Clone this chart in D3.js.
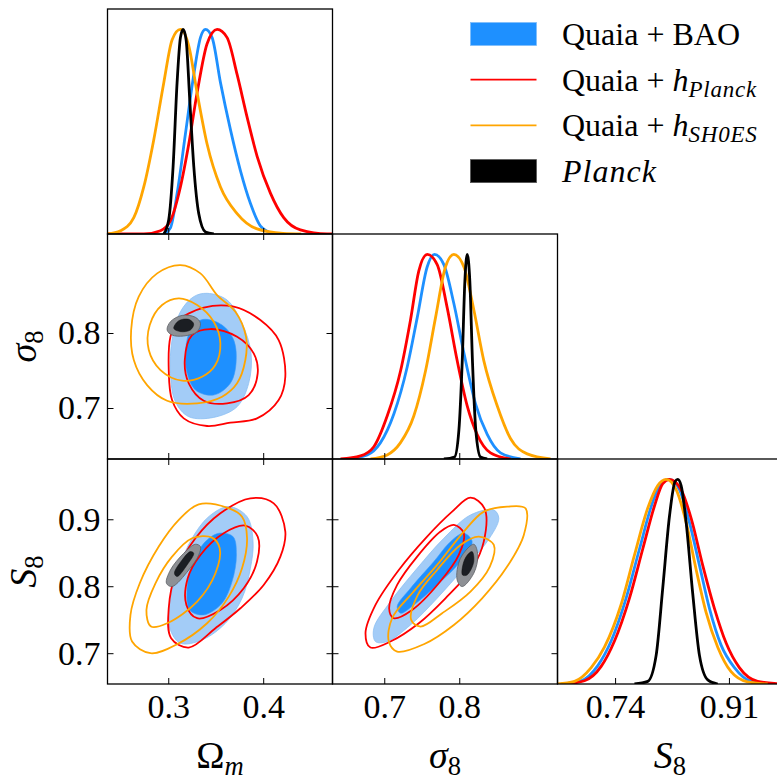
<!DOCTYPE html>
<html>
<head>
<meta charset="utf-8">
<script src="https://cdn.jsdelivr.net/npm/d3@7"></script>
<style>
body { margin: 0; background: #fff; }
svg { display: block; font-family: "Liberation Serif", "DejaVu Serif", serif; }
</style>
</head>
<body>
<script>
// tick values
var omTicks = [0.3, 0.4];
var sigTicks = [0.7, 0.8];
var s8yTicks = [0.7, 0.8, 0.9];
var s8xTicks = [0.74, 0.91];

// 1D marginals, [value, normalised density]
var om_bao = [[0.2953,0],[0.3023,0.03],[0.3094,0.2],[0.3181,0.49],[0.3269,0.78],[0.3339,0.96],[0.3392,1.0],[0.3462,0.96],[0.355,0.74],[0.3655,0.51],[0.376,0.31],[0.3865,0.15],[0.397,0.04],[0.411,0]];
var om_hpl = [[0.236,0],[0.2742,0],[0.2918,0.016],[0.3023,0.065],[0.3128,0.23],[0.3216,0.44],[0.3304,0.69],[0.3409,0.93],[0.3515,1.0],[0.362,0.96],[0.3725,0.78],[0.3831,0.57],[0.3936,0.38],[0.4076,0.2],[0.4216,0.08],[0.4392,0.02],[0.4673,0],[0.473,0]];
var om_hsh = [[0.236,0],[0.2497,0.016],[0.2637,0.08],[0.2742,0.23],[0.2847,0.46],[0.2953,0.74],[0.3041,0.95],[0.3128,1.0],[0.3216,0.92],[0.3304,0.69],[0.3409,0.44],[0.355,0.23],[0.3725,0.1],[0.3936,0.025],[0.421,0.003],[0.44,0]];
var om_planck = [[0.2953,0],[0.3005,0.07],[0.3051,0.33],[0.3093,0.74],[0.3128,0.96],[0.3157,1.0],[0.3188,0.95],[0.3227,0.65],[0.3269,0.33],[0.3321,0.1],[0.3392,0.01],[0.348,0]];

var sig_bao = [[0.6506,0],[0.6772,0.02],[0.695,0.08],[0.7128,0.22],[0.7306,0.45],[0.7439,0.69],[0.7573,0.94],[0.767,1.0],[0.7795,0.95],[0.7928,0.76],[0.8061,0.52],[0.8217,0.27],[0.8373,0.12],[0.855,0.03],[0.8817,0]];
var sig_hpl = [[0.6417,0],[0.6683,0.015],[0.6861,0.06],[0.7039,0.21],[0.7217,0.43],[0.735,0.68],[0.7461,0.92],[0.7573,1.0],[0.7706,0.95],[0.7839,0.74],[0.7973,0.48],[0.8106,0.26],[0.8239,0.12],[0.8417,0.03],[0.8683,0]];
var sig_hsh = [[0.6817,0],[0.7039,0.02],[0.7217,0.08],[0.7394,0.21],[0.755,0.43],[0.7683,0.69],[0.7817,0.94],[0.7928,1.0],[0.8061,0.94],[0.8194,0.73],[0.8328,0.48],[0.8506,0.26],[0.8683,0.1],[0.8906,0.025],[0.9217,0]];
var sig_planck = [[0.7795,0],[0.7937,0.01],[0.7995,0.14],[0.8039,0.47],[0.8075,0.87],[0.8106,1.0],[0.8141,0.87],[0.8177,0.47],[0.8221,0.14],[0.8283,0.01],[0.8373,0]];

var s8_bao = [[0.6595,0],[0.6894,0.016],[0.7142,0.09],[0.7341,0.21],[0.7565,0.42],[0.7764,0.66],[0.7962,0.89],[0.8112,0.99],[0.8212,1.0],[0.8361,0.95],[0.851,0.79],[0.866,0.58],[0.8809,0.37],[0.8983,0.19],[0.9182,0.08],[0.943,0.013],[0.973,0]];
var s8_hpl = [[0.6645,0],[0.6943,0.016],[0.7192,0.086],[0.7391,0.21],[0.7615,0.42],[0.7813,0.66],[0.7988,0.87],[0.8112,0.98],[0.8212,1.0],[0.8386,0.95],[0.8536,0.81],[0.8709,0.58],[0.8883,0.37],[0.9058,0.2],[0.9256,0.08],[0.9529,0.013],[0.99,0]];
var s8_hsh = [[0.654,0],[0.6794,0.013],[0.7043,0.08],[0.7241,0.18],[0.7491,0.39],[0.7689,0.63],[0.7888,0.86],[0.8037,0.97],[0.8162,1.0],[0.8312,0.95],[0.8461,0.79],[0.861,0.56],[0.8759,0.35],[0.8933,0.18],[0.9132,0.06],[0.938,0.01],[0.9679,0]];
var s8_planck = [[0.7689,0],[0.7888,0.013],[0.8013,0.14],[0.8112,0.47],[0.8212,0.82],[0.8296,0.99],[0.8336,1.0],[0.8386,0.97],[0.8461,0.79],[0.856,0.44],[0.866,0.14],[0.8784,0.02],[0.8933,0]];

// 2D contours (outer = 95%, inner = 68%), [x value, y value]
// Omega_m vs sigma_8
var omsig_bao95 = [[0.3409,0.8529],[0.3619,0.844],[0.3777,0.8129],[0.3872,0.7729],[0.3847,0.7329],[0.3725,0.7017],[0.3479,0.6875],[0.3216,0.6884],[0.3075,0.7084],[0.3023,0.7462],[0.304,0.7906],[0.3128,0.8284],[0.3268,0.8484]];
var omsig_bao68 = [[0.3374,0.8182],[0.3567,0.8106],[0.369,0.7906],[0.3714,0.7595],[0.3654,0.7329],[0.3479,0.7173],[0.3286,0.724],[0.3191,0.7506],[0.3191,0.7862],[0.3251,0.8084]];
var omsig_hpl95 = [[0.3093,0.8151],[0.3374,0.8338],[0.369,0.8351],[0.397,0.8173],[0.4163,0.7906],[0.4233,0.7417],[0.4163,0.7106],[0.3935,0.6862],[0.3654,0.6804],[0.3409,0.676],[0.3163,0.6862],[0.304,0.7106],[0.3005,0.7506],[0.3023,0.7951]];
var omsig_hpl68 = [[0.3251,0.7973],[0.3444,0.8053],[0.3725,0.7951],[0.39,0.7729],[0.3942,0.7462],[0.3847,0.7173],[0.3619,0.7062],[0.3374,0.7097],[0.3216,0.7329],[0.3174,0.764]];
var omsig_hsh95 = [[0.3128,0.8906],[0.3339,0.8795],[0.3514,0.8506],[0.3707,0.8284],[0.3819,0.7951],[0.3812,0.764],[0.3725,0.7329],[0.3567,0.7151],[0.3304,0.7062],[0.2988,0.7097],[0.2777,0.7306],[0.2637,0.764],[0.2609,0.804],[0.2689,0.8484],[0.2883,0.8795]];
var omsig_hsh68 = [[0.3111,0.8462],[0.3304,0.8373],[0.3479,0.8151],[0.3549,0.7862],[0.3496,0.7573],[0.3356,0.7417],[0.3146,0.7364],[0.2918,0.7506],[0.2795,0.7773],[0.2805,0.8106],[0.2935,0.8373]];
var omsig_planck95 = [[0.2988,0.804],[0.3023,0.8151],[0.3146,0.8235],[0.3286,0.8209],[0.3339,0.8129],[0.3304,0.8018],[0.3163,0.796],[0.304,0.7973]];
var omsig_planck68 = [[0.3058,0.8062],[0.3111,0.8164],[0.3216,0.8182],[0.3268,0.812],[0.3233,0.804],[0.3128,0.8018]];

// Omega_m vs S_8
var oms8_bao95 = [[0.3637,0.9189],[0.383,0.9039],[0.3893,0.8666],[0.3865,0.8268],[0.3777,0.782],[0.3602,0.7447],[0.3356,0.7198],[0.3128,0.7149],[0.3016,0.7373],[0.3016,0.7771],[0.3111,0.8268],[0.3251,0.8716],[0.3426,0.9039]];
var oms8_bao68 = [[0.3532,0.8791],[0.3682,0.8741],[0.3718,0.8467],[0.3672,0.8069],[0.3567,0.7746],[0.3374,0.7572],[0.3226,0.7646],[0.3198,0.797],[0.3251,0.8318],[0.3374,0.8641]];
var oms8_hpl95 = [[0.3865,0.9313],[0.4111,0.9238],[0.4233,0.8815],[0.4181,0.8442],[0.4005,0.8019],[0.376,0.7671],[0.3497,0.7373],[0.3216,0.7084],[0.303,0.7224],[0.3005,0.7671],[0.3086,0.8219],[0.3286,0.8716],[0.3549,0.9089]];
var oms8_hpl68 = [[0.3812,0.8905],[0.3942,0.8741],[0.3935,0.8368],[0.3795,0.797],[0.3549,0.7646],[0.3304,0.7522],[0.3191,0.7721],[0.3205,0.8119],[0.3339,0.8467],[0.3584,0.8791]];
var oms8_hsh95 = [[0.3321,0.9223],[0.3619,0.9174],[0.3777,0.9039],[0.383,0.8716],[0.3777,0.8268],[0.3637,0.7845],[0.3409,0.7447],[0.3093,0.7134],[0.2812,0.7],[0.2619,0.7174],[0.2602,0.7572],[0.27,0.8044],[0.29,0.8592],[0.3111,0.899]];
var oms8_hsh68 = [[0.3251,0.8716],[0.3461,0.8726],[0.3542,0.8567],[0.3497,0.8194],[0.3304,0.7771],[0.2988,0.7447],[0.2819,0.7398],[0.277,0.7646],[0.2865,0.8044],[0.304,0.8442]];
var oms8_planck95 = [[0.3339,0.8592],[0.3321,0.8467],[0.3216,0.8243],[0.304,0.7995],[0.2981,0.8044],[0.3023,0.8243],[0.3163,0.8492],[0.3286,0.8627]];
var oms8_planck68 = [[0.3268,0.8492],[0.3198,0.8318],[0.3093,0.8144],[0.3065,0.8194],[0.3146,0.8392],[0.3233,0.8517]];

// sigma_8 vs S_8
var sigs8_bao95 = [[0.8461,0.9139],[0.8527,0.9014],[0.8372,0.8666],[0.8061,0.8268],[0.7705,0.782],[0.735,0.7422],[0.7039,0.7174],[0.6883,0.7174],[0.6861,0.7373],[0.7083,0.7771],[0.7439,0.8268],[0.7794,0.8716],[0.815,0.9064]];
var sigs8_bao68 = [[0.8061,0.8791],[0.8172,0.8666],[0.8016,0.8368],[0.7705,0.8019],[0.7394,0.7721],[0.7217,0.7597],[0.7172,0.7696],[0.735,0.797],[0.7661,0.8368],[0.7883,0.8666]];
var sigs8_hpl95 = [[0.815,0.9323],[0.8336,0.9164],[0.8327,0.8666],[0.8172,0.8268],[0.7816,0.782],[0.7461,0.7447],[0.7083,0.7174],[0.6816,0.7084],[0.675,0.7298],[0.6883,0.7721],[0.7194,0.8243],[0.755,0.8716],[0.7905,0.9114]];
var sigs8_hpl68 = [[0.7928,0.8915],[0.8061,0.8791],[0.7994,0.8467],[0.7727,0.8044],[0.7372,0.7646],[0.7127,0.7522],[0.7065,0.7671],[0.7172,0.8019],[0.7439,0.8442],[0.775,0.8816]];
var sigs8_hsh95 = [[0.8639,0.9189],[0.8883,0.9164],[0.8861,0.8766],[0.8639,0.8293],[0.8305,0.782],[0.7928,0.7422],[0.7528,0.7134],[0.7172,0.7024],[0.7061,0.7174],[0.7105,0.7522],[0.7372,0.7895],[0.7705,0.8318],[0.8061,0.8816],[0.8328,0.9114]];
var sigs8_hsh68 = [[0.8261,0.8741],[0.8461,0.8616],[0.8408,0.8293],[0.815,0.792],[0.7772,0.7597],[0.7483,0.7398],[0.7359,0.7497],[0.7448,0.787],[0.7705,0.8243],[0.8016,0.8616]];
var sigs8_planck95 = [[0.8194,0.8627],[0.8247,0.8467],[0.8194,0.8194],[0.8039,0.7995],[0.7972,0.8094],[0.8016,0.8417]];
var sigs8_planck68 = [[0.8172,0.8517],[0.8194,0.8368],[0.8105,0.8169],[0.8043,0.8169],[0.8061,0.8368],[0.8128,0.8492]];

// styles
var cBlue = "#1e90ff", cBlueLight = "#a3ccf7", cRed = "#ff0000", cOrange = "#ffa500";
var cBlack = "#1b1e23", cGrey = "#8d9095";

var W = 777, H = 781;
var sz = 225, left = 107.5, top0 = 9;

var svg = d3.select("body").append("svg")
    .attr("width", W).attr("height", H);

svg.append("defs").append("clipPath").attr("id", "pc")
    .append("rect").attr("width", sz).attr("height", sz);

var xOm = d3.scaleLinear().domain([0.236, 0.473]).range([0, sz]);
var xSig = d3.scaleLinear().domain([0.631, 0.931]).range([0, sz]);
var ySig = d3.scaleLinear().domain([0.632, 0.932]).range([sz, 0]);
var xS8 = d3.scaleLinear().domain([0.654, 0.990]).range([0, sz]);
var yS8 = d3.scaleLinear().domain([0.654, 0.990]).range([sz, 0]);
var yDen = d3.scaleLinear().domain([0, 1.1]).range([sz, 0]);

function panel(col, row) {
    var g = svg.append("g").attr("transform", "translate(" + (left + col * sz) + "," + (top0 + row * sz) + ")");
    var inner = g.append("g").attr("clip-path", "url(#pc)");
    return { g: g, inner: inner };
}

function draw1D(p, xs, list) {
    var line = d3.line().x(function (d) { return xs(d[0]); }).y(function (d) { return yDen(d[1]); })
        .curve(d3.curveMonotoneX);
    list.forEach(function (c) {
        p.inner.append("path").datum(c[0]).attr("d", line)
            .attr("fill", "none").attr("stroke", c[1]).attr("stroke-width", 2.8)
            .attr("stroke-linejoin", "round");
    });
}

function draw2D(p, xs, ys, sets) {
    var line = d3.line().x(function (d) { return xs(d[0]); }).y(function (d) { return ys(d[1]); })
        .curve(d3.curveCatmullRomClosed.alpha(0.5));
    // blue filled
    p.inner.append("path").datum(sets.bao[0]).attr("d", line)
        .attr("fill", cBlueLight).attr("stroke", "#8cbff3").attr("stroke-width", 0.8);
    p.inner.append("path").datum(sets.bao[1]).attr("d", line)
        .attr("fill", cBlue).attr("stroke", "#3b9cfb").attr("stroke-width", 0.6);
    // red and orange lines
    [[sets.hpl, cRed], [sets.hsh, cOrange]].forEach(function (s) {
        s[0].forEach(function (c) {
            p.inner.append("path").datum(c).attr("d", line)
                .attr("fill", "none").attr("stroke", s[1]).attr("stroke-width", 1.8);
        });
    });
    // planck filled
    p.inner.append("path").datum(sets.planck[0]).attr("d", line)
        .attr("fill", cGrey).attr("stroke", "#5d6065").attr("stroke-width", 0.8);
    p.inner.append("path").datum(sets.planck[1]).attr("d", line)
        .attr("fill", cBlack).attr("stroke", "#111").attr("stroke-width", 0.5);
}

function styleAxis(a) {
    a.select(".domain").remove();
    a.attr("font-family", "'Liberation Serif', serif").attr("font-size", 34);
    a.selectAll(".tick line").attr("stroke", "#000").attr("stroke-width", 1);
}

function frame(p, xs, ys, xt, yt, showX, showY, xfmt, all) {
    var ax = p.g.append("g").attr("transform", "translate(0," + sz + ")")
        .call(d3.axisBottom(xs).tickValues(xt).tickSize(-6).tickPadding(10)
            .tickFormat(showX ? d3.format(xfmt) : ""));
    styleAxis(ax);
    if (all) {
        styleAxis(p.g.append("g").call(d3.axisTop(xs).tickValues(xt).tickSize(-6).tickFormat("")));
        var ay = p.g.append("g")
            .call(d3.axisLeft(ys).tickValues(yt).tickSize(-6).tickPadding(7)
                .tickFormat(showY ? d3.format(".1f") : ""));
        styleAxis(ay);
        styleAxis(p.g.append("g").attr("transform", "translate(" + sz + ",0)")
            .call(d3.axisRight(ys).tickValues(yt).tickSize(-6).tickFormat("")));
    }
    p.g.append("rect").attr("width", sz).attr("height", sz)
        .attr("fill", "none").attr("stroke", "#000").attr("stroke-width", 1.3);
}

// diagonal
var p00 = panel(0, 0);
draw1D(p00, xOm, [[om_bao, cBlue], [om_hpl, cRed], [om_hsh, cOrange], [om_planck, "#000"]]);
frame(p00, xOm, yDen, omTicks, [], false, false, ".1f", false);

var p11 = panel(1, 1);
draw1D(p11, xSig, [[sig_bao, cBlue], [sig_hpl, cRed], [sig_hsh, cOrange], [sig_planck, "#000"]]);
frame(p11, xSig, yDen, sigTicks, [], false, false, ".1f", false);

var p22 = panel(2, 2);
draw1D(p22, xS8, [[s8_bao, cBlue], [s8_hpl, cRed], [s8_hsh, cOrange], [s8_planck, "#000"]]);
frame(p22, xS8, yDen, s8xTicks, [], true, false, ".2f", false);

// off-diagonal
var p01 = panel(0, 1);
draw2D(p01, xOm, ySig, {
    bao: [omsig_bao95, omsig_bao68], hpl: [omsig_hpl95, omsig_hpl68],
    hsh: [omsig_hsh95, omsig_hsh68], planck: [omsig_planck95, omsig_planck68]
});
frame(p01, xOm, ySig, omTicks, sigTicks, false, true, ".1f", true);

var p02 = panel(0, 2);
draw2D(p02, xOm, yS8, {
    bao: [oms8_bao95, oms8_bao68], hpl: [oms8_hpl95, oms8_hpl68],
    hsh: [oms8_hsh95, oms8_hsh68], planck: [oms8_planck95, oms8_planck68]
});
frame(p02, xOm, yS8, omTicks, s8yTicks, true, true, ".1f", true);

var p12 = panel(1, 2);
draw2D(p12, xSig, yS8, {
    bao: [sigs8_bao95, sigs8_bao68], hpl: [sigs8_hpl95, sigs8_hpl68],
    hsh: [sigs8_hsh95, sigs8_hsh68], planck: [sigs8_planck95, sigs8_planck68]
});
frame(p12, xSig, yS8, sigTicks, s8yTicks, true, false, ".1f", true);

// axis labels
function mathLabel(g, main, mainItalic, sub) {
    g.append("tspan").text(main).attr("font-style", mainItalic ? "italic" : "normal");
    g.append("tspan").text(sub).attr("font-size", "0.7em").attr("dy", "0.25em")
        .attr("font-style", sub === "m" ? "italic" : "normal");
}
var xlab = [["Ω", false, "m"], ["σ", true, "8"], ["S", true, "8"]];
xlab.forEach(function (l, i) {
    var t = svg.append("text").attr("x", left + i * sz + sz / 2).attr("y", 768)
        .attr("text-anchor", "middle").attr("font-size", 38);
    mathLabel(t, l[0], l[1], l[2]);
});
[["σ", true, "8"], ["S", true, "8"]].forEach(function (l, i) {
    var t = svg.append("text")
        .attr("transform", "translate(36," + (top0 + (i + 1) * sz + sz / 2) + ") rotate(-90)")
        .attr("text-anchor", "middle").attr("font-size", 38);
    mathLabel(t, l[0], l[1], l[2]);
});

// legend
var legendItems = [
    { type: "patch", fill: cBlue, edge: "#7fbdfb", text: ["Quaia + BAO"] },
    { type: "line", color: cRed, text: ["Quaia + ", "h", "Planck"] },
    { type: "line", color: cOrange, text: ["Quaia + ", "h", "SH0ES"] },
    { type: "patch", fill: "#000", edge: "#555", text: ["", "Planck"] }
];
var lg = svg.append("g");
legendItems.forEach(function (it, i) {
    var cy = 34 + i * 45.7;
    if (it.type === "patch") {
        lg.append("rect").attr("x", 470.5).attr("y", cy - 11.5).attr("width", 66).attr("height", 23)
            .attr("fill", it.fill).attr("stroke", it.edge).attr("stroke-width", 0.8);
    } else {
        lg.append("line").attr("x1", 470.5).attr("x2", 536.5).attr("y1", cy).attr("y2", cy)
            .attr("stroke", it.color).attr("stroke-width", 1.8);
    }
    var t = lg.append("text").attr("x", 562).attr("y", cy + 11).attr("font-size", 32);
    if (it.text.length === 1) {
        t.text(it.text[0]);
    } else if (it.text.length === 2) {
        t.append("tspan").text(it.text[1]).attr("font-style", "italic").attr("letter-spacing", 1);
    } else {
        t.append("tspan").text(it.text[0]);
        t.append("tspan").text(it.text[1]).attr("font-style", "italic");
        t.append("tspan").text(it.text[2]).attr("font-style", "italic")
            .attr("font-size", 23).attr("dy", 6).attr("letter-spacing", 0.8);
    }
});
</script>
</body>
</html>
